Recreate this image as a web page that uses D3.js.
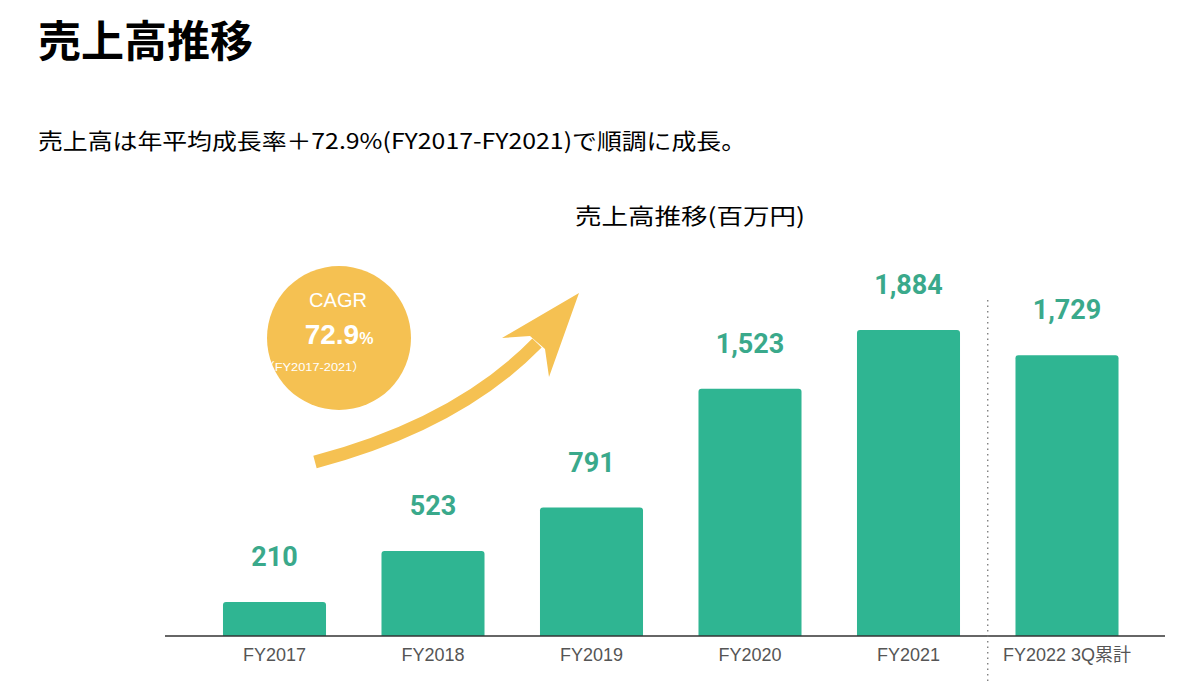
<!DOCTYPE html>
<html>
<head>
<meta charset="utf-8">
<script src="https://cdn.jsdelivr.net/npm/d3@7"></script>
<style>
  body { margin: 0; background: #fff; }
  svg { display: block; }
</style>
</head>
<body>
<div id="chart"></div>
<script>
// values (百万円)
var categories = ["FY2017", "FY2018", "FY2019", "FY2020", "FY2021", "FY2022 3Q累計"];
var sales = [210, 523, 791, 1523, 1884, 1729];
var valueLabels = ["210", "523", "791", "1,523", "1,884", "1,729"];

var W = 1200, H = 681;
var base = 636;
var green = "#2fb592", labelGreen = "#3aa98b", yellow = "#f5c152";
var jp = "'Noto Sans CJK JP', 'Noto Sans', sans-serif";
var sans = "'Liberation Sans', Arial, 'Noto Sans CJK JP', sans-serif";

var svg = d3.select("#chart").append("svg")
    .attr("width", W)
    .attr("height", H);

// headings
svg.append("text")
    .attr("x", 38).attr("y", 57)
    .attr("font-family", jp).attr("font-weight", 700)
    .attr("font-size", 43).attr("fill", "#000")
    .text("売上高推移");

svg.append("text")
    .attr("x", 38).attr("y", 149)
    .attr("font-family", jp).attr("font-size", 22).attr("fill", "#000")
    .attr("textLength", 708).attr("lengthAdjust", "spacingAndGlyphs")
    .text("売上高は年平均成長率＋72.9%(FY2017-FY2021)で順調に成長。");

svg.append("text")
    .attr("x", 575).attr("y", 224)
    .attr("font-family", jp).attr("font-size", 22).attr("fill", "#000")
    .attr("textLength", 230).attr("lengthAdjust", "spacingAndGlyphs")
    .text("売上高推移(百万円)");

var x = d3.scaleBand()
    .domain(categories)
    .range([195.25, 1146.25])
    .paddingInner(0.35)
    .paddingOuter(0.175);

var y = d3.scaleLinear()
    .domain([0, 1884])
    .range([base, 330]);

// bars with slightly rounded tops
var r = 3;
svg.append("g").selectAll("path")
    .data(sales)
    .join("path")
    .attr("fill", green)
    .attr("d", function(d, i) {
        var x0 = x(categories[i]), x1 = x0 + x.bandwidth(), t = y(d);
        return "M" + x0 + "," + base + "V" + (t + r) + "Q" + x0 + "," + t + " " + (x0 + r) + "," + t +
            "H" + (x1 - r) + "Q" + x1 + "," + t + " " + x1 + "," + (t + r) + "V" + base + "Z";
    });

svg.append("g").selectAll("text")
    .data(sales)
    .join("text")
    .attr("x", function(d, i) { return x(categories[i]) + x.bandwidth() / 2; })
    .attr("y", function(d) { return y(d) - 36; })
    .attr("text-anchor", "middle")
    .attr("font-family", "Roboto, sans-serif").attr("font-weight", 700)
    .attr("font-size", 27).attr("fill", labelGreen)
    .text(function(d, i) { return valueLabels[i]; });

// x axis
var xAxis = svg.append("g")
    .attr("transform", "translate(0," + base + ")")
    .call(d3.axisBottom(x).tickSize(0).tickPadding(12));
xAxis.select(".domain").remove();
xAxis.selectAll("text")
    .attr("font-family", sans)
    .attr("font-size", 18).attr("fill", "#555");

svg.append("line")
    .attr("x1", 165).attr("x2", 1165)
    .attr("y1", base).attr("y2", base)
    .attr("stroke", "#333").attr("stroke-width", 1.5);

// separator before the partial year
var sepX = (x(categories[4]) + x.bandwidth() + x(categories[5])) / 2;
svg.append("line")
    .attr("x1", sepX).attr("x2", sepX)
    .attr("y1", 300).attr("y2", H)
    .attr("stroke", "#777").attr("stroke-width", 1.3)
    .attr("stroke-dasharray", "1.5,4");

// CAGR bubble
svg.append("circle")
    .attr("cx", 339).attr("cy", 338).attr("r", 72)
    .attr("fill", yellow);

svg.append("text")
    .attr("x", 338).attr("y", 307)
    .attr("text-anchor", "middle")
    .attr("font-family", sans).attr("font-size", 20)
    .attr("fill", "#fff")
    .text("CAGR");

var pct = svg.append("text")
    .attr("x", 339).attr("y", 344)
    .attr("text-anchor", "middle")
    .attr("font-family", sans).attr("font-weight", 700)
    .attr("fill", "#fff");
pct.append("tspan").attr("font-size", 28).text("72.9");
pct.append("tspan").attr("font-size", 16).text("%");

svg.append("text")
    .attr("x", 262).attr("y", 371)
    .attr("font-family", sans).attr("font-size", 11.5)
    .attr("fill", "#fff")
    .attr("textLength", 103).attr("lengthAdjust", "spacingAndGlyphs")
    .text("（FY2017-2021）");

// growth arrow
svg.append("path")
    .attr("d", "M315,462 Q458,424 537,343")
    .attr("fill", "none")
    .attr("stroke", yellow)
    .attr("stroke-width", 13);

svg.append("path")
    .attr("d", "M579,293 L502,338 L530,336 L545,349 L549,377 Z")
    .attr("fill", yellow);
</script>
</body>
</html>
